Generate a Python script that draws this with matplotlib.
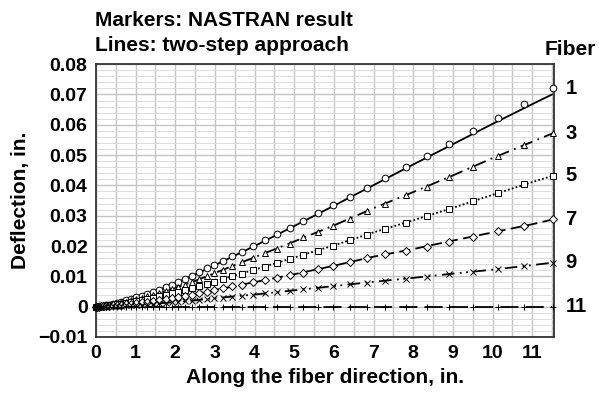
import matplotlib
matplotlib.use("Agg")
import matplotlib.pyplot as plt
from matplotlib.ticker import MultipleLocator

plt.rcParams["font.family"] = ["Liberation Sans", "DejaVu Sans"]
plt.rcParams["font.weight"] = "bold"

# NASTRAN result (markers), shared x positions along the fiber
x_fem = [0.0, 0.04, 0.08, 0.13, 0.19, 0.26, 0.34, 0.43, 0.53, 0.64, 0.76, 0.89,
         1.02, 1.16, 1.30, 1.45, 1.60, 1.76, 1.92, 2.08, 2.25, 2.42, 2.60, 2.79,
         2.98, 3.20, 3.44, 3.69, 3.96, 4.26, 4.57, 4.89, 5.22, 5.60, 5.98, 6.40,
         6.84, 7.30, 7.81, 8.35, 8.90, 9.50, 10.13, 10.80, 11.52]
fem_1 = [0, 0.00005, 0.0001, 0.0002, 0.0003, 0.0005, 0.0007, 0.0010, 0.0013, 0.0017,
         0.0021, 0.0026, 0.0031, 0.0036, 0.0042, 0.0048, 0.0056, 0.0064, 0.0073,
         0.0082, 0.0091, 0.0101, 0.0113, 0.0126, 0.0138, 0.0151, 0.0167, 0.0182,
         0.0201, 0.0220, 0.0239, 0.0260, 0.0282, 0.0308, 0.0336, 0.0363, 0.0393,
         0.0426, 0.0461, 0.0498, 0.0537, 0.0578, 0.0622, 0.0669, 0.0721]
fem_3 = [0, 0, 0.0001, 0.0002, 0.0002, 0.0004, 0.0006, 0.0008, 0.0010, 0.0014,
         0.0017, 0.0021, 0.0025, 0.0029, 0.0034, 0.0038, 0.0045, 0.0051, 0.0058,
         0.0066, 0.0073, 0.0081, 0.0090, 0.0101, 0.0110, 0.0121, 0.0134, 0.0146,
         0.0161, 0.0176, 0.0191, 0.0208, 0.0229, 0.0245, 0.0266, 0.0290, 0.0316,
         0.0340, 0.0368, 0.0395, 0.0427, 0.0462, 0.0497, 0.0534, 0.0572]
fem_5 = [0, 0, 0.0001, 0.0001, 0.0002, 0.0003, 0.0004, 0.0006, 0.0008, 0.0010,
         0.0013, 0.0016, 0.0019, 0.0022, 0.0025, 0.0029, 0.0034, 0.0038, 0.0044,
         0.0049, 0.0055, 0.0061, 0.0068, 0.0076, 0.0083, 0.0091, 0.0100, 0.0109,
         0.0121, 0.0132, 0.0143, 0.0156, 0.0171, 0.0184, 0.0201, 0.0220, 0.0237,
         0.0257, 0.0277, 0.0299, 0.0322, 0.0348, 0.0374, 0.0404, 0.0432]
fem_7 = [0, 0, 0, 0.0001, 0.0001, 0.0002, 0.0003, 0.0004, 0.0005, 0.0007,
         0.0008, 0.0010, 0.0012, 0.0014, 0.0017, 0.0019, 0.0022, 0.0026, 0.0029,
         0.0033, 0.0036, 0.0040, 0.0045, 0.0050, 0.0055, 0.0060, 0.0067, 0.0073,
         0.0080, 0.0088, 0.0096, 0.0104, 0.0112, 0.0123, 0.0135, 0.0146, 0.0160,
         0.0173, 0.0185, 0.0198, 0.0215, 0.0231, 0.0248, 0.0267, 0.0288]
fem_9 = [0, 0, 0, 0, 0, 0.0001, 0.0001, 0.0002, 0.0003, 0.0003,
         0.0004, 0.0005, 0.0006, 0.0007, 0.0008, 0.0010, 0.0011, 0.0013, 0.0015,
         0.0016, 0.0018, 0.0020, 0.0023, 0.0025, 0.0028, 0.0030, 0.0033, 0.0036,
         0.0040, 0.0044, 0.0048, 0.0052, 0.0057, 0.0062, 0.0067, 0.0074, 0.0079,
         0.0086, 0.0092, 0.0099, 0.0108, 0.0116, 0.0124, 0.0134, 0.0145]
fem_11 = [0] * 45

# two-step approach (lines)
x_two = [0, 0.5, 1, 1.5, 2, 2.5, 3, 4, 5, 6, 7, 8, 9, 10, 11, 11.5]
two_1 = [0, 0.0012, 0.0030, 0.0051, 0.0077, 0.0106, 0.0137, 0.0200, 0.0266,
         0.0333, 0.0401, 0.0469, 0.0536, 0.0603, 0.0668, 0.0700]
two_3 = [0, 0.0010, 0.0024, 0.0041, 0.0062, 0.0085, 0.0111, 0.0163, 0.0215,
         0.0268, 0.0325, 0.0378, 0.0433, 0.0490, 0.0544, 0.0571]
two_5 = [0, 0.0007, 0.0018, 0.0031, 0.0046, 0.0064, 0.0084, 0.0122, 0.0162,
         0.0202, 0.0245, 0.0285, 0.0326, 0.0369, 0.0411, 0.0431]
two_7 = [0, 0.0005, 0.0012, 0.0020, 0.0031, 0.0042, 0.0055, 0.0081, 0.0107,
         0.0135, 0.0165, 0.0190, 0.0218, 0.0245, 0.0272, 0.0287]
two_9 = [0, 0.0002, 0.0006, 0.0010, 0.0015, 0.0021, 0.0028, 0.0040, 0.0054,
         0.0068, 0.0082, 0.0095, 0.0109, 0.0122, 0.0137, 0.0145]
two_11 = [0] * 16

fibers = ["1", "3", "5", "7", "9", "11"]
fem = [fem_1, fem_3, fem_5, fem_7, fem_9, fem_11]
two = [two_1, two_3, two_5, two_7, two_9, two_11]
markers = ["o", "^", "s", "D", "x", "+"]
msizes = [4.8, 4.8, 4.4, 4.2, 4.2, 5.0]
styles = ["-", (0, (7, 3, 1, 3)), (0, (1, 1.2)), (0, (6, 3)),
          (0, (7, 3, 1, 2.5, 1, 3)), (0, (10, 4))]

fig = plt.figure(figsize=(5.99, 3.96), dpi=100)
ax = fig.add_axes([0.160, 0.149, 0.765, 0.689])

for name, yf, yt, mk, ms, ls in zip(fibers, fem, two, markers, msizes, styles):
    ax.plot(x_two, yt, color="black", lw=1.3, ls=ls, zorder=3)
    ax.plot(x_fem, yf, ls="none", marker=mk, ms=ms, mfc="white", mec="black",
            mew=0.7, zorder=4, clip_on=False)
    ax.annotate(name, xy=(x_fem[-1], yf[-1]), xytext=(9, 0), textcoords="offset points",
                ha="left", va="center", fontsize=14.5, fontweight="bold",
                annotation_clip=False)

ax.set_xlim(0, 11.55)
ax.set_ylim(-0.01, 0.08)
ax.xaxis.set_major_locator(MultipleLocator(1))
ax.xaxis.set_minor_locator(MultipleLocator(0.5))
ax.yaxis.set_major_locator(MultipleLocator(0.01))
ax.yaxis.set_minor_locator(MultipleLocator(0.002))
ax.grid(which="major", axis="both", color="#c4c4c4", lw=1.0)
ax.grid(which="minor", axis="x", color="#c4c4c4", lw=1.0)
ax.grid(which="minor", axis="y", color="#dcdcdc", lw=0.7)
ax.set_axisbelow(True)
ax.tick_params(which="both", length=0, labelsize=14, pad=6)
ax.set_yticks([-0.01, 0, 0.01, 0.02, 0.03, 0.04, 0.05, 0.06, 0.07, 0.08])
ax.set_yticklabels(["\u22120.01", "0", "0.01", "0.02", "0.03", "0.04",
                    "0.05", "0.06", "0.07", "0.08"])
for s in ax.spines.values():
    s.set_color("#333333")
    s.set_linewidth(1.3)

ax.set_xlabel("Along the fiber direction, in.", fontsize=15, fontweight="bold", labelpad=4)
ax.set_ylabel("Deflection, in.", fontsize=15, fontweight="bold", labelpad=6)

fig.text(95 / 599, 1 - 26 / 396, "Markers: NASTRAN result", fontsize=15,
         fontweight="bold", ha="left", va="baseline")
fig.text(95 / 599, 1 - 51 / 396, "Lines: two-step approach", fontsize=15,
         fontweight="bold", ha="left", va="baseline")
fig.text(545 / 599, 1 - 55 / 396, "Fiber", fontsize=15, fontweight="bold",
         ha="left", va="baseline")

fig.savefig("out.png", dpi=100)
